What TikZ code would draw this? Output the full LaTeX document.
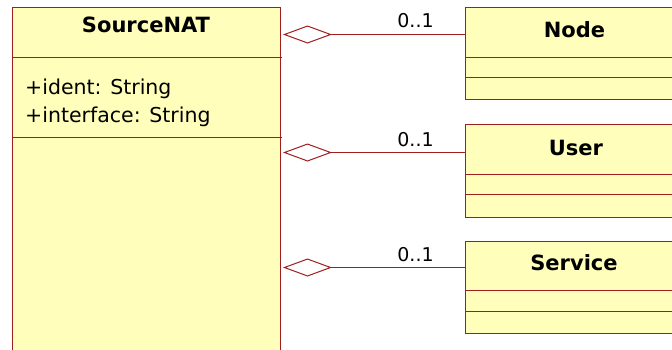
\documentclass[tikz,border=0pt]{standalone}
\usepackage{fontspec}
\setmainfont{DejaVu Sans}
\usetikzlibrary{arrows.meta}
\definecolor{yel}{RGB}{255,255,187}
\definecolor{brd}{RGB}{160,30,30}
\tikzset{
  cls/.style={draw=brd, fill=yel, line width=1pt, inner sep=0pt, rectangle, anchor=north west},
  sepline/.style={draw=brd, line width=1pt},
  cname/.style={anchor=base, inner sep=0pt, font=\bfseries\fontsize{21}{25}\selectfont},
  attr/.style={anchor=base west, inner sep=0pt, font=\fontsize{20.5}{24}\selectfont},
  mult/.style={anchor=base, inner sep=0pt, font=\fontsize{19}{23}\selectfont},
  agg/.style={draw=brd, line width=1pt, -{Diamond[open, length=49pt, width=18pt]}}
}
\begin{document}
\begin{tikzpicture}[x=1pt, y=-1pt]
\useasboundingbox (0,0) rectangle (672,349);
\clip (0,0) rectangle (672,349);
\fill[white] (0,0) rectangle (672,349);
% SourceNAT
\node[cls, minimum width=268pt, minimum height=360pt] (src) at (12,7) {};
\node[cname] (srcName) at (146,32.7) {SourceNAT};
\draw[sepline] (12,57) -- (282,57);
\draw[sepline] (12,137) -- (282,137);
\node[attr] (srcA1) at (25,94.5) {+ident: String};
\node[attr] (srcA2) at (25,122.5) {+interface: String};
% Node
\node[cls, minimum width=219pt, minimum height=92pt] (nodeBox) at (465,7) {};
\node[cls, minimum width=219pt, minimum height=50pt, draw=none, fill=none] (nodeHdr) at (465,7) {};
\node[cname] (nodeName) at (574.5,37.3) {Node};
\draw[sepline] (465,57) -- (684,57);
\draw[sepline] (465,77) -- (684,77);
% User
\node[cls, minimum width=219pt, minimum height=93pt] (userBox) at (465,124) {};
\node[cls, minimum width=219pt, minimum height=50pt, draw=none, fill=none] (userHdr) at (465,124) {};
\node[cname] (userName) at (576,155) {User};
\draw[sepline] (465,174) -- (684,174);
\draw[sepline] (465,194) -- (684,194);
% Service
\node[cls, minimum width=219pt, minimum height=92pt] (servBox) at (465,241) {};
\node[cls, minimum width=219pt, minimum height=49pt, draw=none, fill=none] (servHdr) at (465,241) {};
\node[cname] (servName) at (574,270) {Service};
\draw[sepline] (465,290) -- (684,290);
\draw[sepline] (465,311) -- (684,311);
% aggregations
\coordinate (c1) at ([yshift=-2pt]nodeHdr.west);
\coordinate (c2) at ([yshift=-3pt]userHdr.west);
\coordinate (c3) at ([yshift=-1.5pt]servHdr.west);
\coordinate (e1) at ([xshift=2pt]src.east |- c1);
\coordinate (e2) at ([xshift=2pt]src.east |- c2);
\coordinate (e3) at ([xshift=2pt]src.east |- c3);
\draw[agg] (c1) -- (e1);
\draw[agg] (c2) -- (e2);
\draw[agg] (c3) -- (e3);
\node[mult] (m1) at (415.5,27.3) {0..1};
\node[mult] (m2) at (415.5,146) {0..1};
\node[mult] (m3) at (415.5,261.5) {0..1};
\end{tikzpicture}
\end{document}
